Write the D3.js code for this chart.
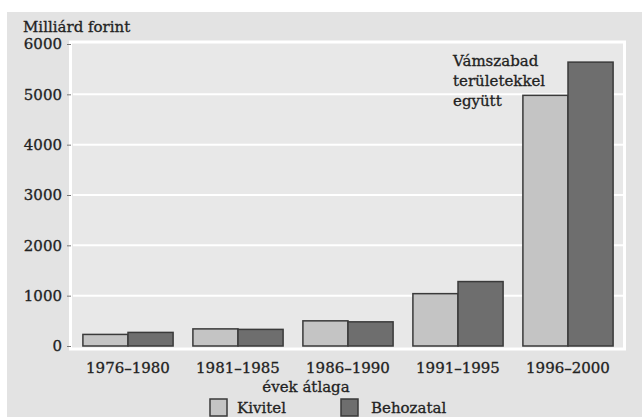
<!DOCTYPE html>
<html>
<head>
<meta charset="utf-8">
<script src="https://cdn.jsdelivr.net/npm/d3@7"></script>
<style>
  body { margin: 0; background: #fff; }
  text { font-family: "DejaVu Serif", serif; fill: #222; stroke: #222; stroke-width: 0.3; }
</style>
</head>
<body>
<svg id="chart"></svg>
<script>
const periods = ["1976–1980", "1981–1985", "1986–1990", "1991–1995", "1996–2000"]
const kivitel = [230, 340, 500, 1040, 4980]
const behozatal = [270, 330, 480, 1280, 5640]
const yTicks = [0, 1000, 2000, 3000, 4000, 5000, 6000]
const seriesNames = ["Kivitel", "Behozatal"]
const colors = ["#c4c4c4", "#6e6e6e"]

const width = 642, height = 417
const margin = {top: 44, right: 19, bottom: 71, left: 73}

const svg = d3.select("#chart")
    .attr("width", width)
    .attr("height", height)

// panel background
svg.append("rect")
    .attr("x", 7).attr("y", 12)
    .attr("width", width - 7).attr("height", height - 12)
    .attr("fill", "#e3e3e3")

const x = d3.scaleBand()
    .domain(periods)
    .range([margin.left, width - margin.right])
    .paddingInner(0.18)
    .paddingOuter(0.09)

const x1 = d3.scaleBand()
    .domain(seriesNames)
    .range([0, x.bandwidth()])

const y = d3.scaleLinear()
    .domain([0, 6000])
    .range([height - margin.bottom, margin.top])

// plot frame
svg.append("rect")
    .attr("x", margin.left - 2.5)
    .attr("y", y(6000) - 2)
    .attr("width", width - margin.right - margin.left + 4)
    .attr("height", y(0) - y(6000) + 5)
    .attr("fill", "#e8e8e8")
    .attr("stroke", "#fff")
    .attr("stroke-width", 3)

// grid
svg.append("g")
    .selectAll("line")
    .data(yTicks.slice(1, -1))
    .join("line")
    .attr("x1", margin.left).attr("x2", width - margin.right + 1)
    .attr("y1", d => y(d)).attr("y2", d => y(d))
    .attr("stroke", "#fff")
    .attr("stroke-width", 2)

// y axis
const yAxis = g => g
    .attr("transform", `translate(${margin.left - 2},0)`)
    .call(d3.axisLeft(y).tickValues(yTicks).tickFormat(d3.format("d")).tickSize(4).tickPadding(5))
    .call(g => g.select(".domain").remove())
    .call(g => g.selectAll(".tick line").attr("stroke", "#777"))
    .call(g => g.selectAll(".tick text")
        .attr("font-family", "DejaVu Serif")
        .attr("font-size", 15)
        .attr("fill", "#222"))

svg.append("g").call(yAxis)

// bars
const data = periods.map((p, i) => ({period: p, values: [kivitel[i], behozatal[i]]}))

svg.append("g")
    .selectAll("g")
    .data(data)
    .join("g")
    .attr("transform", d => `translate(${x(d.period)},0)`)
    .selectAll("rect")
    .data(d => d.values.map((v, j) => ({name: seriesNames[j], value: v, c: colors[j]})))
    .join("rect")
    .attr("x", d => x1(d.name))
    .attr("y", d => y(d.value))
    .attr("width", x1.bandwidth())
    .attr("height", d => y(0) - y(d.value))
    .attr("fill", d => d.c)
    .attr("stroke", "#3a3a3a")
    .attr("stroke-width", 1.5)

// x axis labels
svg.append("g")
    .selectAll("text")
    .data(periods)
    .join("text")
    .attr("x", d => x(d) + x.bandwidth() / 2)
    .attr("y", 373)
    .attr("text-anchor", "middle")
    .attr("font-size", 15)
    .text(d => d)

svg.append("text")
    .attr("x", 306).attr("y", 392)
    .attr("text-anchor", "middle")
    .attr("font-size", 15)
    .text("évek átlaga")

// y title
svg.append("text")
    .attr("x", 23).attr("y", 32)
    .attr("font-size", 15)
    .text("Milliárd forint")

// annotation
const note = ["Vámszabad", "területekkel", "együtt"]
svg.append("g")
    .selectAll("text")
    .data(note)
    .join("text")
    .attr("x", 453)
    .attr("y", (d, i) => 66 + i * 20)
    .attr("font-size", 15)
    .text(d => d)

// legend
const legendX = [210, 341]
const legend = svg.append("g")
    .selectAll("g")
    .data(seriesNames)
    .join("g")
    .attr("transform", (d, i) => `translate(${legendX[i]},399)`)

legend.append("rect")
    .attr("width", 17).attr("height", 17)
    .attr("fill", (d, i) => colors[i])
    .attr("stroke", "#3a3a3a")
    .attr("stroke-width", 1.5)

legend.append("text")
    .attr("x", (d, i) => i === 0 ? 27 : 30)
    .attr("y", 14)
    .attr("font-size", 15)
    .text(d => d)
</script>
</body>
</html>
